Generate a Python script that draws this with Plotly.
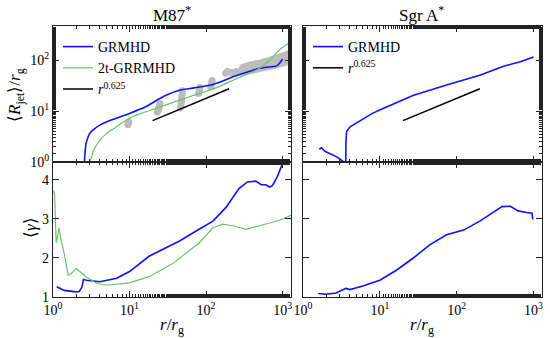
import plotly.graph_objects as go

# ---------------- data ----------------
# Top-left: M87* <R_jet>/r_g
M87_GRMHD_R = [2.57, 2.6, 2.65, 2.7, 2.85, 3.0, 3.5, 4.1, 6, 10, 16, 23, 30, 46, 70, 112, 160, 225, 340, 500, 600, 700, 800, 850, 920, 1000]
M87_GRMHD_RJET = [0.9, 1.3, 1.8, 2.3, 3.0, 3.6, 4.5, 5.3, 6.8, 9, 12, 16.5, 20.5, 26, 28.5, 32, 38, 47, 58, 69, 72, 74, 76, 78, 88, 105]
M87_2T_R = [3.0, 3.4, 4.1, 5.0, 6.3, 8.0, 10, 14, 22, 30, 46, 70, 112, 160, 229, 340, 500, 700, 933, 1100, 1300]
M87_2T_RJET = [0.9, 1.7, 2.7, 3.6, 4.6, 5.9, 7.2, 9.0, 11.2, 13.2, 16.6, 20.5, 25.7, 32, 40.7, 53, 69, 105, 165, 195, 232]
OBS_R = [9.5, 9.7, 9.8, 23, 24, 24, 24.5, 25, 46, 47, 47, 48, 48, 48.5, 49, 49,
         80, 81, 82, 83, 115, 117, 118, 120, 180, 190, 200, 215, 230, 250,
         290, 310, 330, 350, 370, 390, 420, 450, 480, 520, 560, 600, 650, 700, 760, 820, 880, 950, 1020, 1100, 1180, 1260,
         300, 320, 340, 360, 380, 410, 440, 470, 510, 550, 590, 640, 690, 740, 800, 860, 930, 1000, 1080, 1160, 1240, 1300,
         310, 340, 370, 400, 440, 480, 530, 580, 630, 680, 740, 800, 870, 940, 1010, 1090, 1170, 1250]
OBS_RJET = [5.4, 5.9, 6.2, 9.5, 10.5, 11.5, 12.5, 14, 11.5, 13, 14.5, 16, 18, 20, 22.5, 25,
            22, 24, 26.5, 29, 30, 33, 36, 40, 55, 60, 58, 57, 56, 60,
            58, 59, 60, 61, 62, 63, 64, 66, 67, 69, 71, 72, 74, 76, 78, 80, 83, 86, 89, 92, 96, 100,
            72, 74, 76, 78, 80, 82, 84, 86, 88, 91, 94, 97, 100, 104, 108, 112, 116, 120, 125, 130, 135, 140,
            65, 68, 70, 73, 75, 77, 80, 83, 86, 89, 92, 96, 100, 104, 108, 112, 117, 122]
SLOPE_R = [20, 200]
SLOPE_RJET = [6.5, 27.4]

# Top-right: Sgr A*
SGR_R = [1.63, 1.74, 1.95, 2.75, 3.4, 3.58, 3.6, 3.62, 3.7, 4.1, 6, 8, 11, 27.5, 74, 204, 407, 676, 1000]
SGR_RJET = [1.78, 1.9, 1.6, 1.26, 1.0, 0.97, 0.97, 2.5, 4.0, 4.9, 7.0, 9.0, 11.2, 20.4, 32.4, 51, 76, 93, 115]

# Bottom-left: M87* <gamma>
M87_GRMHD_GR = [1.12, 1.4, 2.0, 2.2, 2.4, 2.5, 2.75, 4.1, 6.8, 10, 18, 30, 45, 81, 123, 182, 269, 347, 447, 525, 603, 676, 741, 851, 912, 1000]
M87_GRMHD_GAMMA = [1.26, 1.17, 1.13, 1.14, 1.26, 1.45, 1.43, 1.39, 1.48, 1.65, 2.04, 2.25, 2.43, 2.73, 2.94, 3.29, 3.77, 3.94, 3.96, 3.87, 3.87, 3.81, 3.85, 4.07, 4.24, 4.41]
M87_2T_GR = [1.02, 1.05, 1.1, 1.2, 1.26, 1.35, 1.41, 1.58, 1.74, 2.0, 2.24, 2.7, 3.7, 5.0, 10, 18, 37, 81, 123, 166, 224, 331, 501, 912, 1290]
M87_2T_GAMMA = [3.72, 3.6, 2.38, 2.77, 2.51, 2.25, 2.08, 1.56, 1.6, 1.73, 1.65, 1.52, 1.35, 1.30, 1.36, 1.52, 1.86, 2.38, 2.77, 2.86, 2.82, 2.73, 2.82, 2.96, 3.09]

# Bottom-right: Sgr A* <gamma>
SGR_GR = [1.58, 2.0, 2.7, 3.5, 3.6, 4.1, 6.0, 10, 16.6, 27, 45, 74, 123, 200, 302, 389, 501, 631, 813, 955, 977]
SGR_GAMMA = [1.09, 1.07, 1.10, 1.20, 1.22, 1.19, 1.28, 1.43, 1.69, 1.99, 2.34, 2.59, 2.71, 2.94, 3.16, 3.31, 3.32, 3.2, 3.16, 3.14, 2.98]

TITLES = ["M87<sup>*</sup>", "Sgr A<sup>*</sup>"]
XTICKVALS = [1, 10, 100, 1000]
XTICKTEXT = ["10<sup>0</sup>", "10<sup>1</sup>", "10<sup>2</sup>", "10<sup>3</sup>"]
YTICKVALS = [1, 10, 100]
YTICKTEXT = ["10<sup>0</sup>", "10<sup>1</sup>", "10<sup>2</sup>"]
GTICKVALS = [1, 2, 3, 4]

# ---------------- style ----------------
BLUE = "#0a14ff"
GREEN = "#6cc26c"
GRAY = "#bdbdbd"
FONT = "Liberation Serif"
W, H = 550, 338

def px_x(a, b):
    return [a / W, b / W]

def px_y(top, bot):
    return [1 - bot / H, 1 - top / H]

fig = go.Figure()

# top-left
fig.add_trace(go.Scatter(x=OBS_R, y=OBS_RJET, mode="markers", marker=dict(color=GRAY, size=7),
                         showlegend=False, xaxis="x", yaxis="y"))
fig.add_trace(go.Scatter(x=M87_GRMHD_R, y=M87_GRMHD_RJET, mode="lines", line=dict(color=BLUE, width=1.6, shape="spline", smoothing=0.6),
                         name="GRMHD", xaxis="x", yaxis="y", legend="legend"))
fig.add_trace(go.Scatter(x=M87_2T_R, y=M87_2T_RJET, mode="lines", line=dict(color=GREEN, width=1.2, shape="spline", smoothing=0.6),
                         name="2t-GRRMHD", xaxis="x", yaxis="y", legend="legend"))
fig.add_trace(go.Scatter(x=SLOPE_R, y=SLOPE_RJET, mode="lines", line=dict(color="black", width=1.5),
                         name="<i>r</i><sup>0.625</sup>", xaxis="x", yaxis="y", legend="legend"))
# top-right
fig.add_trace(go.Scatter(x=SGR_R, y=SGR_RJET, mode="lines", line=dict(color=BLUE, width=1.6),
                         name="GRMHD", xaxis="x2", yaxis="y2", legend="legend2"))
fig.add_trace(go.Scatter(x=SLOPE_R, y=SLOPE_RJET, mode="lines", line=dict(color="black", width=1.5),
                         name="<i>r</i><sup>0.625</sup>", xaxis="x2", yaxis="y2", legend="legend2"))
# bottom-left
fig.add_trace(go.Scatter(x=M87_GRMHD_GR, y=M87_GRMHD_GAMMA, mode="lines", line=dict(color=BLUE, width=1.6),
                         showlegend=False, xaxis="x3", yaxis="y3"))
fig.add_trace(go.Scatter(x=M87_2T_GR, y=M87_2T_GAMMA, mode="lines", line=dict(color=GREEN, width=1.2),
                         showlegend=False, xaxis="x3", yaxis="y3"))
# bottom-right
fig.add_trace(go.Scatter(x=SGR_GR, y=SGR_GAMMA, mode="lines", line=dict(color=BLUE, width=1.6),
                         showlegend=False, xaxis="x4", yaxis="y4"))

axcommon = dict(showline=True, linecolor="#222", linewidth=1.3, mirror="allticks", ticks="inside",
                tickcolor="#222", tickwidth=1, showgrid=False, zeroline=False, automargin=False,
                tickfont=dict(family=FONT, size=14, color="black"))
minor_log = dict(ticks="inside", ticklen=3, tickcolor="#222", tickwidth=1, showgrid=False)

XL = px_x(53, 291)
XR = px_x(303, 542)
YT = px_y(26, 162)
YB = px_y(162, 297)
XRANGE = [0, 3.11]

layout = dict(
    width=W, height=H, margin=dict(l=0, r=0, t=0, b=0, autoexpand=False),
    paper_bgcolor="white", plot_bgcolor="white",
    font=dict(family=FONT, color="black"),
    xaxis=dict(axcommon, type="log", domain=XL, range=XRANGE, anchor="y", tickvals=XTICKVALS,
               showticklabels=False, ticklen=6, minor=minor_log),
    yaxis=dict(axcommon, type="log", domain=YT, range=[0, 2.67], anchor="x", tickvals=YTICKVALS,
               ticktext=YTICKTEXT, ticklen=6, minor=minor_log),
    xaxis2=dict(axcommon, type="log", domain=XR, range=XRANGE, anchor="y2", tickvals=XTICKVALS,
                showticklabels=False, ticklen=6, minor=minor_log),
    yaxis2=dict(axcommon, type="log", domain=YT, range=[0, 2.67], anchor="x2", tickvals=YTICKVALS,
                showticklabels=False, ticklen=6, minor=minor_log),
    xaxis3=dict(axcommon, type="log", domain=XL, range=XRANGE, anchor="y3", tickvals=XTICKVALS,
                ticktext=XTICKTEXT, ticklen=6, minor=minor_log),
    yaxis3=dict(axcommon, domain=YB, range=[1, 4.45], anchor="x3", tickvals=GTICKVALS, ticklen=6),
    xaxis4=dict(axcommon, type="log", domain=XR, range=XRANGE, anchor="y4", tickvals=XTICKVALS,
                ticktext=XTICKTEXT, ticklen=6, minor=minor_log),
    yaxis4=dict(axcommon, domain=YB, range=[1, 4.45], anchor="x4", tickvals=GTICKVALS,
                showticklabels=False, ticklen=6),
    legend=dict(x=58 / W, y=1 - 31 / H, xanchor="left", yanchor="top", bgcolor="rgba(0,0,0,0)",
                font=dict(family=FONT, size=14, color="black"), tracegroupgap=0, itemwidth=30),
    legend2=dict(x=308 / W, y=1 - 31 / H, xanchor="left", yanchor="top", bgcolor="rgba(0,0,0,0)",
                 font=dict(family=FONT, size=14, color="black"), tracegroupgap=0, itemwidth=30),
)
fig.update_layout(**layout)

ann = []
ann.append(dict(text=TITLES[0], x=172 / W, y=1 - 14 / H, xref="paper", yref="paper", showarrow=False,
                font=dict(family=FONT, size=17, color="black"), xanchor="center", yanchor="middle"))
ann.append(dict(text=TITLES[1], x=422 / W, y=1 - 14 / H, xref="paper", yref="paper", showarrow=False,
                font=dict(family=FONT, size=17, color="black"), xanchor="center", yanchor="middle"))
ann.append(dict(text="⟨<i>R</i><sub>jet</sub>⟩/<i>r</i><sub>g</sub>", x=16 / W, y=1 - 95 / H, xref="paper", yref="paper",
                showarrow=False, textangle=-90, font=dict(family=FONT, size=17, color="black"),
                xanchor="center", yanchor="middle"))
ann.append(dict(text="⟨<i>γ</i>⟩", x=30 / W, y=1 - 228 / H, xref="paper", yref="paper",
                showarrow=False, textangle=-90, font=dict(family=FONT, size=17, color="black"),
                xanchor="center", yanchor="middle"))
for xc in (172, 422):
    ann.append(dict(text="<i>r</i>/<i>r</i><sub>g</sub>", x=xc / W, y=1 - 326 / H, xref="paper", yref="paper",
                    showarrow=False, font=dict(family=FONT, size=17, color="black"),
                    xanchor="center", yanchor="middle"))
fig.update_layout(annotations=ann)

fig.write_html("out.html", config={"displayModeBar": False},
               post_script="document.body.style.margin='0';")
